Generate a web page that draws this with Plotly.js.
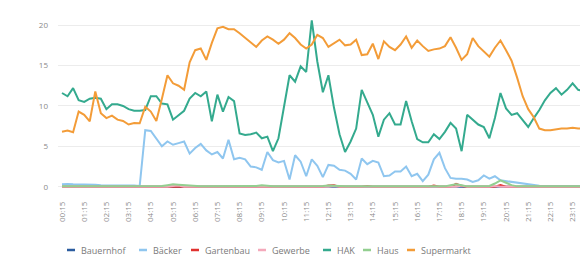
<!DOCTYPE html>
<html>
<head>
<meta charset="utf-8">
<script src="https://cdn.plot.ly/plotly-3.0.1.min.js"></script>
<style>html,body{margin:0;padding:0;overflow:hidden;background:#fff;}#chart{width:580px;height:261px;}</style>
</head>
<body>
<div id="chart"></div>
<script>
const times = ["00:15","00:30","00:45","01:00","01:15","01:30","01:45","02:00","02:15","02:30","02:45","03:00","03:15","03:30","03:45","04:00","04:15","04:30","04:45","05:00","05:15","05:30","05:45","06:00","06:15","06:30","06:45","07:00","07:15","07:30","07:45","08:00","08:15","08:30","08:45","09:00","09:15","09:30","09:45","10:00","10:15","10:30","10:45","11:00","11:15","11:30","11:45","12:00","12:15","12:30","12:45","13:00","13:15","13:30","13:45","14:00","14:15","14:30","14:45","15:00","15:15","15:30","15:45","16:00","16:15","16:30","16:45","17:00","17:15","17:30","17:45","18:00","18:15","18:30","18:45","19:00","19:15","19:30","19:45","20:00","20:15","20:30","20:45","21:00","21:15","21:30","21:45","22:00","22:15","22:30","22:45","23:00","23:15","23:30","23:45","24:00"];

const tickLabels = ["00:15","01:15","02:15","03:15","04:15","05:15","06:15","07:15","08:15","09:15","10:15","11:15","12:15","13:15","14:15","15:15","16:15","17:15","18:15","19:15","20:15","21:15","22:15","23:15"];

const seriesNames = ["Bauernhof","Bäcker","Gartenbau","Gewerbe","HAK","Haus","Supermarkt"];

const bauernhof = [0,0,0,0,0,0,0,0,0,0, 0,0,0,0,0,0,0,0,0,0, 0,0,0,0,0,0,0,0,0,0, 0,0,0,0,0,0,0,0,0,0, 0,0,0,0,0,0,0,0,0,0, 0,0,0,0,0,0,0,0,0,0, 0,0,0,0,0,0,0,0,0,0, 0,0,0,0,0,0,0,0,0,0, 0,0,0,0,0,0,0,0,0,0, 0,0,0,0,0,0];

const baecker = [0.3,0.35,0.3,0.3,0.3,0.25,0.25,0.2,0.2,0.2,
 0.2,0.2,0.15,0.15,0.1,7.0,6.9,6.0,5.0,5.6,
 5.2,5.4,5.6,4.1,4.8,5.3,4.5,4.0,4.3,3.5,
 5.8,3.4,3.6,3.4,2.5,2.4,2.1,4.3,3.3,3.0,
 3.2,0.9,3.9,3.1,1.3,3.4,2.6,1.2,2.7,2.6,
 2.1,2.0,1.6,0.9,3.5,2.8,3.2,3.0,1.3,1.4,
 1.9,1.9,2.5,1.3,1.6,0.7,1.5,3.4,4.2,2.3,
 1.1,1.0,1.0,0.9,0.6,0.8,1.4,1.0,1.3,0.8,
 0.7,0.6,0.5,0.4,0.25,0.15,0.12,0.1,0.1,0.12,
 0.1,0.1,0.12,0.1,0.1,0.1];

const gartenbau = [0,0,0,0,0,0,0,0,0,0, 0,0,0,0,0,0,0,0,0,0, 0,0,0,0,0,0,0,0,0,0, 0,0,0,0,0,0,0,0,0,0,
 0,0,0,0,0,0,0,0,0.15,0.2, 0,0,0,0,0,0.1,0,0,0,0, 0,0,0,0,0,0,0,0.15,0,0,
 0,0.35,0.1,0,0,0,0,0,0,0.2, 0,0,0,0,0,0,0,0,0,0, 0,0,0,0,0,0];

const gewerbe = [0,0,0,0,0,0,0,0,0,0, 0,0,0,0,0,0,0,0,0,0, 0.1,0.15,0,0,0,0,0,0,0,0, 0,0,0,0,0,0,0,0,0,0,
 0,0,0,0,0,0,0,0,0,0.1, 0,0,0,0,0,0,0,0,0,0, 0,0,0,0,0,0,0,0,0,0,
 0,0,0.15,0,0,0,0,0,0.1,0, 0,0,0,0,0,0,0,0,0,0, 0,0,0,0,0,0];

const hak = [11.6,11.2,12.2,10.7,10.5,10.9,11.0,10.9,9.6,10.2,
 10.2,10.0,9.6,9.4,9.4,9.5,11.2,11.2,10.3,10.2,
 8.3,8.8,9.4,10.9,11.6,11.2,11.8,8.1,11.4,9.3,
 11.1,10.6,6.6,6.4,6.5,6.7,6.0,6.2,4.4,6.0,
 9.7,13.8,13.0,14.9,14.2,20.6,15.5,11.7,13.8,9.8,
 6.5,4.3,5.6,7.2,12.0,10.5,8.9,6.2,8.3,9.1,
 7.7,7.7,10.6,8.1,5.9,5.5,5.5,6.5,5.9,6.8,
 7.9,7.2,4.4,8.9,8.3,7.7,7.4,6.0,8.5,11.6,
 9.7,8.9,9.1,8.3,7.4,8.5,9.5,10.7,11.6,12.2,
 11.4,12.0,12.8,12.0,11.8,12.0];

const haus = [0.05,0.05,0.05,0.05,0.05,0.05,0.05,0.05,0.05,0.05,
 0.05,0.05,0.05,0.05,0.05,0.05,0.1,0.1,0.1,0.2,
 0.3,0.25,0.2,0.1,0.05,0.05,0.05,0.05,0.05,0.05,
 0.05,0.05,0.05,0.05,0.05,0.1,0.2,0.1,0.05,0.05,
 0.05,0.05,0.05,0.05,0.05,0.05,0.05,0.1,0.15,0.1,
 0.05,0.05,0.05,0.05,0.05,0.05,0.05,0.05,0.05,0.05,
 0.05,0.05,0.1,0.05,0.05,0.05,0.05,0.05,0.05,0.05,
 0.2,0.3,0.2,0.05,0.05,0.05,0.05,0.1,0.4,0.8,
 0.5,0.2,0.05,0.05,0.05,0.05,0.05,0.05,0.05,0.05,
 0.05,0.05,0.05,0.05,0.05,0.05];

const supermarkt = [6.8,6.95,6.75,9.3,8.9,8.1,11.8,9.1,8.5,8.8,
 8.3,8.15,7.7,7.9,7.85,9.9,9.3,8.15,10.9,13.8,
 12.8,12.5,12.0,15.4,16.9,17.1,15.7,17.8,19.6,19.8,
 19.5,19.5,19.0,18.4,17.9,17.3,18.1,18.6,18.2,17.7,
 18.2,19.0,18.4,17.6,17.1,17.6,18.8,18.4,17.3,17.7,
 18.2,17.5,17.6,18.2,16.3,16.4,17.7,15.8,18.0,17.3,
 16.9,17.6,18.6,17.2,18.1,17.4,16.8,17.0,17.1,17.4,
 18.5,17.2,15.7,16.4,18.4,17.4,16.8,16.1,17.2,18.1,
 16.9,15.6,13.5,11.2,9.6,8.6,7.2,7.0,7.0,7.1,
 7.2,7.2,7.3,7.2,7.3,7.3];

const seriesValues = [bauernhof, baecker, gartenbau, gewerbe, hak, haus, supermarkt];
const colors = ["#2b5c9f","#8fc6ef","#e0312f","#f4a9bb","#34aa8e","#93cf90","#f39c38"];
const widths = [2,2,2,2,2,2,2];

const traces = seriesNames.map((n, k) => ({
  type: "scatter", mode: "lines", name: n, x: times, y: seriesValues[k],
  line: {color: colors[k], width: widths[k]}, showlegend: false
}));

// custom compact legend (layout positions in pixels)
const L = 58, PW = 522, T = 13, PH = 177;
const legendDashX = [67,139,191,258,323,363,407];
const legendY = 250;
const px2x = p => (p - L) / PW;
const py2y = p => (T + PH - p) / PH;
const shapes = seriesNames.map((n, k) => ({
  type: "line", xref: "paper", yref: "paper",
  x0: px2x(legendDashX[k]), x1: px2x(legendDashX[k] + 8),
  y0: py2y(legendY), y1: py2y(legendY),
  line: {color: colors[k], width: 2.5}
}));
const annotations = seriesNames.map((n, k) => ({
  xref: "paper", yref: "paper", x: px2x(legendDashX[k] + 12), y: py2y(legendY),
  xanchor: "left", yanchor: "middle", showarrow: false, text: n,
  font: {family: "Open Sans, sans-serif", size: 9, color: "#7a7a7a"}
}));

const layout = {
  width: 580, height: 261,
  margin: {l: L, r: 0, t: T, b: 261 - T - PH},
  paper_bgcolor: "#fff", plot_bgcolor: "#fff",
  showlegend: false,
  xaxis: {
    type: "category", range: [-0.72, 93.33],
    tickmode: "array", tickvals: tickLabels, ticktext: tickLabels,
    tickangle: -90, tickfont: {family: "Open Sans, sans-serif", size: 8, color: "#8a8a8a"},
    showgrid: false, zeroline: false, showline: false, ticks: "", ticklabelstandoff: 9
  },
  yaxis: {
    range: [-0.4, 21.5], tickvals: [0,5,10,15,20],
    tickfont: {family: "Open Sans, sans-serif", size: 8, color: "#8a8a8a"},
    gridcolor: "#ececec", gridwidth: 1, zeroline: false, showline: false, ticks: "",
    ticklabelstandoff: 9
  },
  shapes: shapes,
  annotations: annotations
};

Plotly.newPlot("chart", traces, layout, {displayModeBar: false, staticPlot: true});
</script>
</body>
</html>
